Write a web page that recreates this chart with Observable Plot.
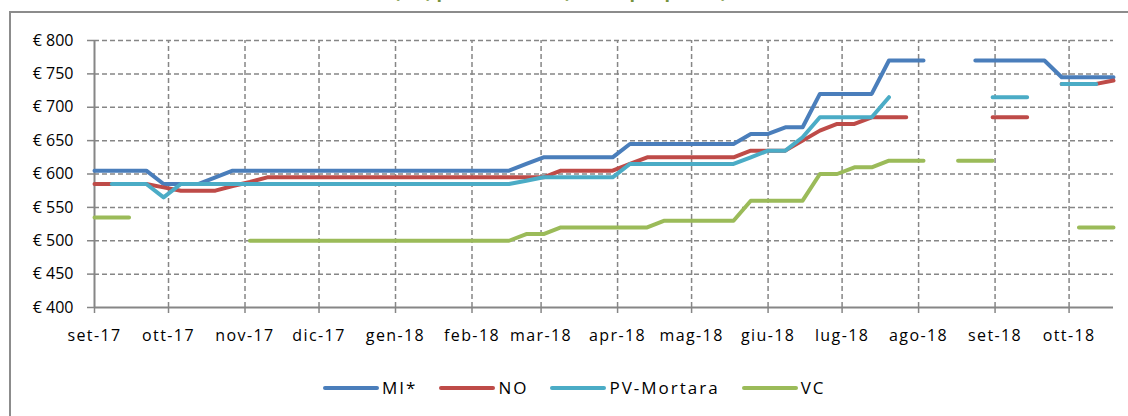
<!DOCTYPE html>
<html>
<head>
<meta charset="utf-8">
<script src="https://cdn.jsdelivr.net/npm/d3@7"></script>
<script src="https://cdn.jsdelivr.net/npm/@observablehq/plot@0.6"></script>
<style>
  html, body { margin: 0; padding: 0; background: #fff; width: 1128px; height: 416px; overflow: hidden; }
  #wrap { position: relative; width: 1128px; height: 416px; font-family: "Open Sans", sans-serif; }
  #frame { position: absolute; left: 9px; top: 11px; width: 1300px; height: 600px; border-left: 2px solid #8c8c8c; border-top: 2px solid #8c8c8c; }
  #title { position: absolute; left: 184px; width: 600px; top: -18px; text-align: center; font-size: 18px; line-height: 18px; font-weight: bold; color: #77933C; white-space: nowrap; }
  #chart { position: absolute; left: 0; top: 0; }
  #chart g[aria-label="x-axis tick label"] text { letter-spacing: 1.4px; }
  #legend { position: absolute; left: 323px; top: 376px; display: flex; align-items: center; font-size: 17px; letter-spacing: 2px; color: #000; }
  .item { display: flex; align-items: center; margin-right: 22px; }
  .sw { width: 56px; height: 4px; border-radius: 2px; margin-right: 3px; }
</style>
</head>
<body>
<div id="wrap">
  <div id="frame"></div>
  <div id="title">Risone Carnaroli (€/t) prezzi minimi (media per piazza)</div>
  <div id="chart"></div>
  <div id="legend"></div>
</div>
<script>
const dates = ["2017-09-01","2017-09-08","2017-09-15","2017-09-22","2017-09-29","2017-10-06","2017-10-13","2017-10-20","2017-10-27","2017-11-03",
  "2017-11-10","2017-11-17","2017-11-24","2017-12-01","2017-12-08","2017-12-15","2017-12-22","2017-12-29","2018-01-05","2018-01-12",
  "2018-01-19","2018-01-26","2018-02-02","2018-02-09","2018-02-16","2018-02-23","2018-03-02","2018-03-09","2018-03-16","2018-03-23",
  "2018-03-30","2018-04-06","2018-04-13","2018-04-20","2018-04-27","2018-05-04","2018-05-11","2018-05-18","2018-05-25","2018-06-01",
  "2018-06-08","2018-06-15","2018-06-22","2018-06-29","2018-07-06","2018-07-13","2018-07-20","2018-07-27","2018-08-03","2018-08-10",
  "2018-08-17","2018-08-24","2018-08-31","2018-09-07","2018-09-14","2018-09-21","2018-09-28","2018-10-05","2018-10-12","2018-10-19"];

const seriesNames = ["MI*", "NO", "PV-Mortara", "VC"];
const seriesColors = ["#4A7EBB", "#BE4B48", "#4BACC6", "#9BBB59"];

const MI = [605,605,605,605,585,585,585,595,605,605,
  605,605,605,605,605,605,605,605,605,605,
  605,605,605,605,605,615,625,625,625,625,
  625,645,645,645,645,645,645,645,660,660,
  670,670,720,720,720,720,770,770,770,null,
  null,770,770,770,770,770,745,745,745,745];

const NO = [585,585,585,585,580,575,575,575,582,588,
  595,595,595,595,595,595,595,595,595,595,
  595,595,595,595,595,595,595,605,605,605,
  605,615,625,625,625,625,625,625,635,635,
  635,650,665,675,675,685,685,685,null,null,
  null,null,685,685,685,null,735,735,735,740];

const PV = [null,585,585,585,565,585,585,585,585,585,
  585,585,585,585,585,585,585,585,585,585,
  585,585,585,585,585,590,595,595,595,595,
  595,615,615,615,615,615,615,615,625,635,
  635,655,685,685,685,685,715,null,null,null,
  null,null,715,715,715,null,735,735,735,null];

const VC = [535,535,535,null,null,null,null,null,null,500,
  500,500,500,500,500,500,500,500,500,500,
  500,500,500,500,500,510,510,520,520,520,
  520,520,520,530,530,530,530,530,560,560,
  560,560,600,600,610,610,620,620,620,null,
  620,620,620,null,null,null,null,520,520,520];

const xTickDates = ["2017-09-01","2017-10-01","2017-11-01","2017-12-01","2018-01-01","2018-02-01","2018-03-01",
  "2018-04-01","2018-05-01","2018-06-01","2018-07-01","2018-08-01","2018-09-01","2018-10-01"];
const xTickLabels = ["set-17","ott-17","nov-17","dic-17","gen-18","feb-18","mar-18",
  "apr-18","mag-18","giu-18","lug-18","ago-18","set-18","ott-18"];
const yTicks = [400,450,500,550,600,650,700,750,800];

const allSeries = [MI, NO, PV, VC];
const rows = [];
allSeries.forEach((vals, s) => {
  vals.forEach((v, i) => rows.push({date: new Date(dates[i]), value: v, series: seriesNames[s]}));
});
const tickDates = xTickDates.map(d => new Date(d));
const labelMap = new Map(tickDates.map((d, i) => [+d, xTickLabels[i]]));
const gridColor = "#868686";

const chart = Plot.plot({
  width: 1128,
  height: 352,
  marginLeft: 94,
  marginRight: 15,
  marginTop: 40,
  marginBottom: 45,
  style: {fontFamily: "'Open Sans', sans-serif", fontSize: "16px", color: "#000", background: "transparent", overflow: "visible"},
  x: {type: "utc", domain: [new Date("2017-09-01"), new Date("2018-10-19")]},
  y: {domain: [400, 800]},
  color: {domain: seriesNames, range: seriesColors},
  marks: [
    Plot.ruleY(yTicks.slice(1), {stroke: gridColor, strokeWidth: 1.5, strokeDasharray: "5,3"}),
    Plot.ruleX(tickDates.slice(1), {y1: 400, y2: 800, stroke: gridColor, strokeWidth: 1.5, strokeDasharray: "5,3"}),
    Plot.axisY({ticks: yTicks, tickSize: 7, tickPadding: 14, tickFormat: d => "€ " + d, label: null, stroke: gridColor, strokeWidth: 1.5, fill: "#000"}),
    Plot.axisX({ticks: tickDates, tickSize: 6, tickPadding: 16, tickFormat: d => labelMap.get(+d), label: null, stroke: gridColor, strokeWidth: 1.5, fill: "#000"}),
    Plot.ruleY([400], {stroke: gridColor, strokeWidth: 2}),
    Plot.ruleX([tickDates[0]], {y1: 400, y2: 800, stroke: gridColor, strokeWidth: 2}),
    Plot.line(rows, {x: "date", y: "value", z: "series", stroke: "series", strokeWidth: 4, strokeLinecap: "round", strokeLinejoin: "round"})
  ]
});
document.getElementById("chart").appendChild(chart);

const legend = document.getElementById("legend");
seriesNames.forEach((name, i) => {
  const item = document.createElement("div");
  item.className = "item";
  const sw = document.createElement("div");
  sw.className = "sw";
  sw.style.background = seriesColors[i];
  const lab = document.createElement("span");
  lab.textContent = name;
  item.appendChild(sw);
  item.appendChild(lab);
  legend.appendChild(item);
});
</script>
</body>
</html>
